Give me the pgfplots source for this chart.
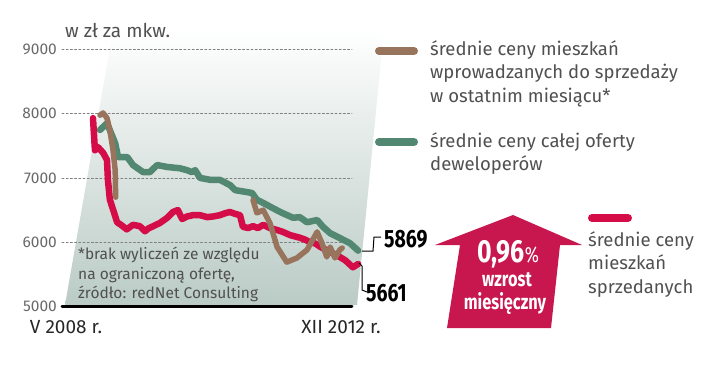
\documentclass[border=0pt]{standalone}
\usepackage{fontspec}
\setmainfont{Fira Sans}
\newfontfamily\condfont[FakeStretch=0.78]{Fira Sans}
\usepackage{pgfplots}
\pgfplotsset{compat=1.18}
\definecolor{cred}{RGB}{212,12,72}
\definecolor{cgreen}{RGB}{82,136,114}
\definecolor{cbrown}{RGB}{152,116,92}
\definecolor{ctext}{RGB}{80,80,80}
\definecolor{ctick}{RGB}{105,105,105}
\definecolor{cbg}{RGB}{186,203,197}
\definecolor{carrow}{RGB}{200,22,78}
\begin{document}
\begin{tikzpicture}[x=1pt,y=1pt]
\useasboundingbox (0,0) rectangle (720,373);
\shade[top color=white, bottom color=cbg] (65,68) -- (357,68) -- (384,343) -- (113,343) -- cycle;
\begin{axis}[at={(62pt,66.5pt)}, anchor=south west, scale only axis,
  width=290pt, height=257.2pt,
  xmin=-6.43, xmax=53.73, ymin=5000, ymax=9000, clip=false,
  axis x line*=bottom, axis y line*=left,
  x axis line style={line width=3pt, black, -},
  y axis line style={draw=none},
  xtick=\empty, ytick={5000,6000,7000,8000,9000},
  major tick length=0pt,
  ymajorgrids, grid style={dash pattern=on 2pt off 2.2pt, line width=0.8pt, black!50},
  /pgf/number format/assume math mode=true,
  /pgf/number format/1000 sep={},
  yticklabel style={font=\fontsize{15.5}{15.5}\selectfont, text=ctick, anchor=east, inner sep=2pt, xshift=-3pt},
  unbounded coords=jump,
  line join=round, line cap=round]
\addplot[cgreen, line width=6.5pt] coordinates {
(1.45,7745)(2.9,7850)(3.9,7670)(4.6,7540)(5.2,7325)(7.1,7325)(8.3,7200)
(10.4,7090)(11.8,7090)(13.3,7200)(15.4,7170)(18.0,7150)(19.5,7120)(20.5,7090)
(21.2,7120)(22.2,7000)(24.3,6970)(26.3,6970)(28.4,6890)(29.5,6810)(31.9,6780)
(33.0,6765)(34.0,6660)(36.1,6580)(37.3,6530)(39.4,6450)(41.5,6380)(42.9,6390)
(44.4,6310)(46.5,6345)(47.7,6240)(49.2,6140)(51.2,6065)(53.3,5985)(55,5869)};
\addplot[cred, line width=6.5pt] coordinates {
(0,7930)(0.4,7430)(1.0,7480)(2.1,7390)(2.9,7280)(3.1,6970)(3.5,6660)(4.2,6500)
(5.0,6310)(5.8,6270)(7.0,6200)(8.3,6270)(9.7,6250)(10.8,6170)(11.4,6210)
(13.9,6300)(15.4,6380)(16.6,6470)(17.6,6500)(18.5,6360)(19.5,6400)(20.7,6420)
(22.2,6420)(23.7,6390)(24.9,6400)(26.3,6420)(27.4,6450)(28.4,6470)(29.5,6440)
(30.5,6420)(31.1,6240)(32.2,6220)(33.2,6250)(34.2,6220)(35.3,6270)(36.7,6220)
(38.2,6190)(39.4,6160)(40.9,6110)(42.9,6070)(44.0,6040)(45.0,6000)(46.1,5980)
(47.1,5930)(48.1,5890)(49.2,5850)(50.2,5810)(51.2,5770)(52.3,5720)(52.9,5680)
(53.9,5610)(55,5661)};
\addplot[cbrown, line width=5.5pt] coordinates {
(1.45,7975)(2.1,8010)(2.9,7930)(3.5,7745)(4.15,7435)(4.6,7120)(4.7,6700)
(20,nan)
(33.2,6655)(34.0,6455)(35.3,6500)(36.7,6300)(38.2,5925)(40.2,5690)(42.3,5755)
(44.4,5880)(46.5,6160)(47.5,5985)(48.5,5770)(49.2,5925)(50.2,5755)(51.2,5880)
(51.7,5910)};
\end{axis}
% titles and axis end labels
\node[anchor=west, text=ctext, font=\fontsize{19}{19}\selectfont, inner sep=0pt] at (65,343) {w zł za mkw.};
\node[text=black!85, font=\fontsize{19}{19}\selectfont, inner sep=0pt] at (66,46) {V 2008 r.};
\node[text=black!85, font=\fontsize{19}{19}\selectfont, inner sep=0pt] at (341,46) {XII 2012 r.};
% note
\node[anchor=north west, align=left, text=ctext, font=\fontsize{15.5}{19.5}\selectfont, inner sep=0pt] at (78,126) {*brak wyliczeń ze względu\\na ograniczoną ofertę,\\źródło: redNet Consulting};
% end value labels
\draw[black, line width=1pt] (362,122) -- (373,122) -- (374,136) -- (381,136);
\draw[black, line width=1pt] (359,110) -- (362,107) -- (362,83) -- (367,81);
\node[anchor=west, inner sep=0pt, font=\condfont\bfseries\fontsize{25}{25}\selectfont] at (384,134) {5869};
\node[anchor=west, inner sep=0pt, font=\condfont\bfseries\fontsize{25}{25}\selectfont] at (366,80) {5661};
% arrow
\fill[carrow] (513,158) -- (582,128) -- (560,128) -- (551,45) -- (447,45) -- (460,128) -- (435,128) -- cycle;
\node[text=white, inner sep=0pt] at (508,119) {\condfont\bfseries\fontsize{32}{32}\selectfont 0,96\fontsize{22}{22}\selectfont\mdseries\%};
\node[text=white, inner sep=0pt, font=\condfont\bfseries\fontsize{21}{21}\selectfont] at (507,93) {wzrost};
\node[text=white, inner sep=0pt, font=\condfont\bfseries\fontsize{21}{21}\selectfont] at (505,70) {miesięczny};
% legend
\draw[cbrown, line width=8pt, line cap=round] (379,322) -- (414,322);
\draw[cgreen, line width=8pt, line cap=round] (379,231) -- (414,231);
\draw[cred, line width=8pt, line cap=round] (592,155) -- (628,155);
\node[anchor=north west, align=left, text=ctext, font=\fontsize{18.5}{23.5}\selectfont, inner sep=0pt] at (430,333) {średnie ceny mieszkań\\wprowadzanych do sprzedaży\\w ostatnim miesiącu*};
\node[anchor=north west, align=left, text=ctext, font=\fontsize{18.5}{23.5}\selectfont, inner sep=0pt] at (430,241) {średnie ceny całej oferty\\deweloperów};
\node[anchor=north west, align=left, text=ctext, font=\fontsize{18.5}{23.5}\selectfont, inner sep=0pt] at (588,142) {średnie ceny\\mieszkań\\sprzedanych};
\end{tikzpicture}
\end{document}
